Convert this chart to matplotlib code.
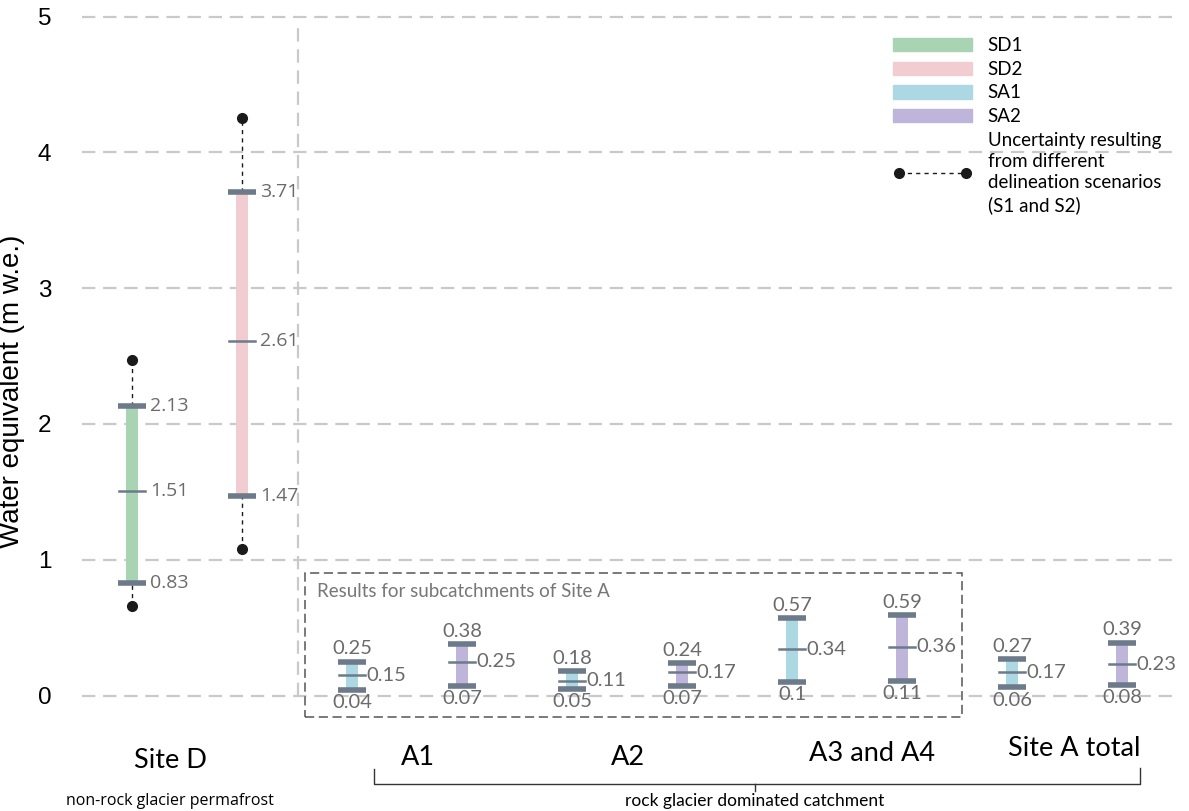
import matplotlib
matplotlib.use('Agg')
import matplotlib.pyplot as plt
import numpy as np
from matplotlib.patches import Rectangle, Patch
from matplotlib.lines import Line2D

# ---------------- data ----------------
series = ['SD1', 'SD2', 'SA1', 'SA2', 'SA1', 'SA2', 'SA1', 'SA2', 'SA1', 'SA2']
lower = [0.83, 1.47, 0.04, 0.07, 0.05, 0.07, 0.10, 0.11, 0.06, 0.08]
middle = [1.51, 2.61, 0.15, 0.25, 0.11, 0.17, 0.34, 0.36, 0.17, 0.23]
upper = [2.13, 3.71, 0.25, 0.38, 0.18, 0.24, 0.57, 0.59, 0.27, 0.39]
unc_low = [0.66, 1.08]      # Site D delineation-scenario uncertainty (SD1, SD2)
unc_high = [2.47, 4.25]
groups = ['Site D', 'A1', 'A2', 'A3 and A4', 'Site A total']
group_notes = ['non-rock glacier permafrost', 'rock glacier dominated catchment']
box_title = 'Results for subcatchments of Site A'
legend_labels = ['SD1', 'SD2', 'SA1', 'SA2',
                 'Uncertainty resulting\nfrom different\ndelineation scenarios\n(S1 and S2)']
yticks = [0, 1, 2, 3, 4, 5]
ylabel = 'Water equivalent (m w.e.)'

# ---------------- style ----------------
colors = {'SD1': '#a8d4b4', 'SD2': '#f1cdd1', 'SA1': '#acd8e4', 'SA2': '#bfb5da'}
cap_color = '#6c7a8a'
lab_color = '#6b6b6b'
grid_color = '#c9c9c9'
TXT = 'Lato'

W, H, DPI = 1189, 811, 100
fig = plt.figure(figsize=(W / DPI, H / DPI), dpi=DPI)
ax = fig.add_axes([82 / W, 0.0 / H, 1093 / W, 808 / H])
ax.set_xlim(-0.4545, 9.482)
ax.set_ylim(-0.85, 5.1)
for s in ax.spines.values():
    s.set_visible(False)
ax.set_xticks([])
ax.set_yticks(yticks)
ax.set_yticklabels([str(t) for t in yticks], fontsize=17.5, family='Liberation Sans')
ax.tick_params(axis='y', length=0, pad=22)
ax.set_ylabel(ylabel, fontsize=20, family='Liberation Sans')
ax.yaxis.set_label_coords(-0.052, 0.52)

# grid
x0, x1 = ax.get_xlim()
for t in yticks:
    ax.plot([x0, x1], [t, t], color=grid_color, lw=1.6, ls=(0, (6, 3.5)), zorder=0)
ax.plot([1.509, 1.509], [0, 4.97], color=grid_color, lw=1.6, ls=(0, (6, 3.5)), zorder=0)

x = np.arange(len(series))
bw = 0.11
cw = 0.13
for i, (xi, s, lo, mi, up) in enumerate(zip(x, series, lower, middle, upper)):
    ax.bar(xi, up - lo, bottom=lo, width=bw, color=colors[s], zorder=2)
    ax.plot([xi - cw, xi + cw], [up, up], color=cap_color, lw=4, solid_capstyle='butt', zorder=3)
    ax.plot([xi - cw, xi + cw], [lo, lo], color=cap_color, lw=4, solid_capstyle='butt', zorder=3)
    ax.plot([xi - cw * 0.92, xi + cw * 0.92], [mi, mi], color=cap_color, lw=1.8, zorder=3)
    if s.startswith('SD'):
        for v in (up, mi, lo):
            ax.annotate(f'{v:g}', (xi + cw, v), xytext=(3, 0), textcoords='offset points',
                        ha='left', va='center', fontsize=14, color=lab_color, family='Open Sans')
    else:
        ax.annotate(f'{up:g}', (xi, up), xytext=(0, 3), textcoords='offset points',
                    ha='center', va='bottom', fontsize=14.5, color=lab_color, family=TXT)
        ax.annotate(f'{mi:g}', (xi + cw, mi), xytext=(0, 0), textcoords='offset points',
                    ha='left', va='center', fontsize=14.5, color=lab_color, family=TXT)
        ax.annotate(f'{lo:g}', (xi, lo), xytext=(0, -3), textcoords='offset points',
                    ha='center', va='top', fontsize=14.5, color=lab_color, family=TXT)

# uncertainty of Site D
for xi, lo, up, ul, uh in zip(x[:2], lower[:2], upper[:2], unc_low, unc_high):
    ax.plot([xi, xi], [up, uh], color='#1a1a1a', lw=1.0, ls=(0, (3, 3)), zorder=1)
    ax.plot([xi, xi], [ul, lo], color='#1a1a1a', lw=1.0, ls=(0, (3, 3)), zorder=1)
    ax.plot([xi, xi], [ul, uh], ls='none', marker='o', ms=7, color='#1a1a1a', zorder=4)

# subcatchment box
ax.add_patch(Rectangle((1.573, -0.155), 7.545 - 1.573, 0.906 + 0.155, fill=False,
                       ec='#555555', lw=1.1, ls=(0, (6, 3)), zorder=1, clip_on=False))
ax.text(1.68, 0.77, box_title, fontsize=13.5, color='#777777', family=TXT, va='center', ha='left')

# group labels
gpos = [(0.345, -0.48), (2.6, -0.457), (4.51, -0.457), (6.73, -0.43), (8.57, -0.39)]
for g, (gx, gy) in zip(groups, gpos):
    ax.text(gx, gy, g, ha='center', va='center', fontsize=19.5, family=TXT, clip_on=False)
ax.text(0.345, -0.775, group_notes[0], ha='center', va='center', fontsize=11.5,
        family='Open Sans', clip_on=False)
ax.text(5.66, -0.775, group_notes[1], ha='center', va='center', fontsize=12.5,
        family=TXT, clip_on=False)
bk = '#333333'
ax.plot([2.2, 2.2, 9.16, 9.16], [-0.54, -0.648, -0.648, -0.53], color=bk, lw=1.0, clip_on=False)
ax.plot([5.66, 5.66], [-0.648, -0.70], color=bk, lw=1.0, clip_on=False)

# legend
handles = [Patch(color=colors[k]) for k in ['SD1', 'SD2', 'SA1', 'SA2']]
handles.append(Line2D([0], [0], color='#1a1a1a', lw=1.0, ls=(0, (3, 3)), marker='o', ms=7))
leg = fig.legend(handles, legend_labels, loc='upper left', bbox_to_anchor=(893 / W, 1 - 37 / H),
                 frameon=False, borderpad=0, borderaxespad=0, handlelength=4.2, numpoints=2,
                 handletextpad=0.85, labelspacing=0.36, prop={'family': TXT, 'size': 13.5})
leg.get_texts()[-1].set_linespacing(1.3)

fig.savefig('out.png', dpi=DPI)
